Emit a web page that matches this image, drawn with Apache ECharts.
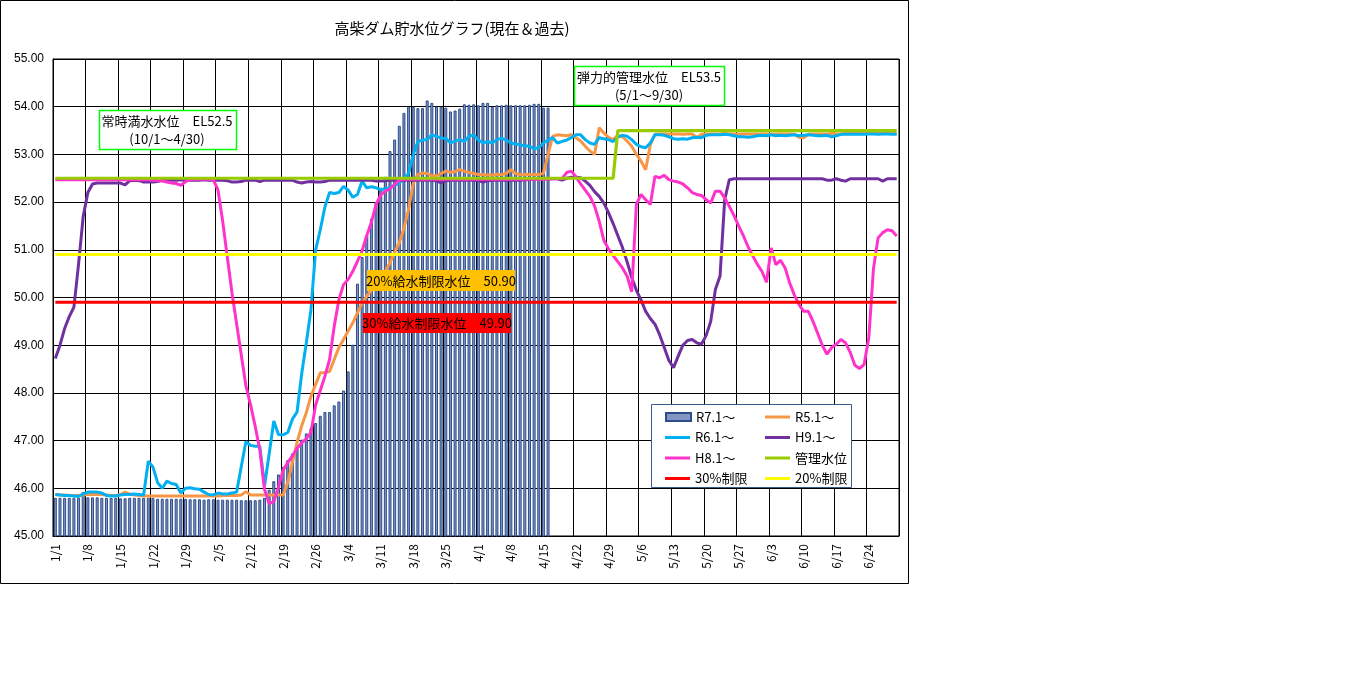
<!DOCTYPE html>
<html>
<head>
<meta charset="utf-8">
<title>高柴ダム貯水位グラフ</title>
<script src="https://cdn.jsdelivr.net/npm/echarts@6/dist/echarts.min.js"></script>
<style>
html, body { margin: 0; padding: 0; background: #fff; }
#chart { width: 1361px; height: 700px; }
</style>
</head>
<body>
<div id="chart"></div>
<script>
// 1/1 - 6/30 (leap-year calendar, as on the chart's axis)
var monthDays = [31, 29, 31, 30, 31, 30];
var dates = [];
monthDays.forEach(function (n, m) {
	for (var d = 1; d <= n; d++) dates.push((m + 1) + '/' + d);
});

var yTicks = { min: 45, max: 55, step: 1 };

// R7 (current year, bars)
var r7 = [
	45.80,45.80,45.80,45.80,45.80,45.80,45.92,45.81,45.81,45.81,
	45.80,45.80,45.80,45.80,45.79,45.79,45.80,45.80,45.80,45.80,
	45.80,45.80,45.78,45.78,45.78,45.78,45.78,45.78,45.78,45.77,
	45.77,45.77,45.76,45.77,45.77,45.76,45.76,45.76,45.76,45.76,
	45.75,45.75,45.75,45.75,45.76,45.80,45.97,46.15,46.29,46.45,
	46.59,46.73,46.90,47.02,47.15,47.26,47.37,47.52,47.60,47.60,
	47.74,47.82,48.05,48.45,49.01,50.29,50.85,51.30,51.65,52.00,
	52.30,52.53,53.07,53.31,53.60,53.87,54.00,54.00,53.97,53.97,
	54.13,54.08,54.00,54.00,53.98,53.90,53.92,53.96,54.05,54.04,
	54.05,54.03,54.08,54.08,54.00,54.03,54.03,54.04,54.03,54.03,
	54.03,54.03,54.04,54.06,54.06,53.98,53.98
];

var r5 = [
	45.87,45.86,45.86,45.85,45.85,45.85,45.86,45.87,45.87,45.87,
	45.87,45.86,45.85,45.85,45.87,45.92,45.88,45.86,45.85,45.84,
	45.84,45.84,45.84,45.84,45.84,45.84,45.84,45.84,45.84,45.84,
	45.84,45.84,45.84,45.84,45.84,45.84,45.85,45.85,45.85,45.85,
	45.86,45.93,45.86,45.86,45.86,45.86,45.86,45.86,45.86,45.86,
	46.12,46.54,46.96,47.31,47.59,47.93,48.18,48.42,48.43,48.45,
	48.70,48.95,49.12,49.30,49.47,49.68,49.89,50.03,50.15,50.28,
	50.40,50.55,50.73,50.95,51.15,51.45,51.85,52.40,52.58,52.61,
	52.60,52.55,52.55,52.60,52.65,52.62,52.64,52.68,52.65,52.62,
	52.60,52.58,52.58,52.57,52.57,52.58,52.58,52.60,52.68,52.60,
	52.58,52.58,52.58,52.58,52.58,52.60,53.00,53.38,53.41,53.40,
	53.39,53.41,53.35,53.28,53.17,53.07,53.00,53.56,53.45,53.36,
	53.31,53.40,53.37,53.28,53.17,53.00,52.86,52.68,53.20,53.42,
	53.43,53.43,53.43,53.43,53.43,53.42,53.43,53.43,53.35,53.42,
	53.43,53.43,53.43,53.43,53.44,53.43,53.43,53.42,53.43,53.43,
	53.43,53.43,53.43,53.43,53.42,53.43,53.43,53.43,53.43,53.42,
	53.36,53.35,53.42,53.43,53.43,53.43,53.43,53.44,53.43,53.43,
	53.44,53.44,53.44,53.44,53.44,53.44,53.44,53.44,53.44,53.44,
	53.44,53.44
];

var r6 = [
	45.87,45.86,45.85,45.85,45.84,45.83,45.88,45.92,45.92,45.92,
	45.90,45.85,45.84,45.84,45.86,45.87,45.87,45.88,45.87,45.86,
	46.57,46.45,46.12,46.00,46.15,46.10,46.08,45.90,46.00,46.01,
	45.99,45.98,45.92,45.87,45.86,45.90,45.88,45.88,45.90,45.92,
	46.45,46.98,46.90,46.88,46.88,46.05,46.72,47.41,47.13,47.12,
	47.17,47.45,47.60,48.40,49.05,49.75,51.00,51.42,51.90,52.20,
	52.18,52.20,52.33,52.25,52.10,52.16,52.44,52.30,52.32,52.30,
	52.26,52.28,52.30,52.35,52.40,52.50,52.60,53.00,53.27,53.30,
	53.31,53.41,53.38,53.34,53.34,53.24,53.28,53.31,53.27,53.38,
	53.41,53.30,53.24,53.27,53.24,53.31,53.34,53.30,53.24,53.22,
	53.20,53.18,53.17,53.12,53.14,53.24,53.30,53.35,53.24,53.27,
	53.30,53.35,53.41,53.41,53.31,53.24,53.21,53.35,53.33,53.31,
	53.27,53.36,53.40,53.38,53.31,53.21,53.16,53.14,53.24,53.41,
	53.41,53.40,53.37,53.33,53.32,53.33,53.32,53.35,53.36,53.35,
	53.40,53.41,53.41,53.41,53.42,53.41,53.39,53.37,53.37,53.36,
	53.37,53.39,53.40,53.39,53.41,53.39,53.40,53.39,53.40,53.41,
	53.39,53.40,53.41,53.40,53.39,53.39,53.40,53.37,53.39,53.42,
	53.42,53.42,53.43,53.42,53.42,53.43,53.43,53.42,53.43,53.43,
	53.42,53.42
];

var h9 = [
	48.72,49.00,49.35,49.60,49.80,50.70,51.70,52.20,52.38,52.40,
	52.40,52.40,52.40,52.40,52.40,52.36,52.45,52.46,52.45,52.42,
	52.42,52.42,52.43,52.46,52.46,52.46,52.46,52.47,52.46,52.46,
	52.46,52.46,52.47,52.46,52.46,52.46,52.46,52.45,52.42,52.42,
	52.43,52.46,52.46,52.46,52.43,52.46,52.46,52.46,52.46,52.46,
	52.46,52.46,52.42,52.40,52.42,52.43,52.42,52.42,52.43,52.46,
	52.46,52.46,52.46,52.46,52.46,52.46,52.46,52.46,52.46,52.44,
	52.44,52.45,52.46,52.46,52.46,52.46,52.46,52.46,52.46,52.46,
	52.46,52.46,52.45,52.40,52.45,52.46,52.46,52.46,52.46,52.46,
	52.46,52.45,52.42,52.45,52.46,52.46,52.46,52.46,52.46,52.46,
	52.46,52.47,52.47,52.48,52.49,52.49,52.49,52.49,52.49,52.46,
	52.50,52.52,52.52,52.51,52.44,52.35,52.22,52.12,51.98,51.78,
	51.55,51.30,51.05,50.75,50.42,50.15,49.95,49.71,49.56,49.44,
	49.22,48.95,48.68,48.53,48.77,49.00,49.10,49.12,49.05,49.02,
	49.20,49.50,50.17,50.45,52.05,52.47,52.49,52.49,52.49,52.49,
	52.49,52.49,52.49,52.49,52.49,52.49,52.49,52.49,52.49,52.49,
	52.49,52.49,52.49,52.49,52.49,52.49,52.46,52.46,52.49,52.46,
	52.44,52.49,52.49,52.49,52.49,52.49,52.49,52.49,52.44,52.49,
	52.49,52.49
];

var h8 = [
	52.47,52.47,52.47,52.47,52.47,52.47,52.47,52.47,52.47,52.47,
	52.47,52.47,52.47,52.47,52.47,52.47,52.47,52.47,52.47,52.47,
	52.47,52.46,52.45,52.44,52.42,52.40,52.39,52.35,52.43,52.47,
	52.48,52.48,52.48,52.48,52.47,52.25,51.60,50.85,50.10,49.45,
	48.80,48.15,47.75,47.30,46.80,45.98,45.68,45.72,46.02,46.38,
	46.54,46.68,46.84,46.95,47.04,47.17,47.75,48.05,48.35,48.70,
	49.40,49.95,50.27,50.38,50.55,50.76,50.98,51.30,51.58,51.95,
	52.15,52.23,52.28,52.37,52.46,52.48,52.48,52.48,52.48,52.48,
	52.48,52.48,52.48,52.48,52.48,52.48,52.48,52.48,52.48,52.48,
	52.48,52.48,52.48,52.48,52.48,52.48,52.48,52.48,52.48,52.48,
	52.48,52.48,52.48,52.48,52.48,52.48,52.48,52.49,52.49,52.49,
	52.62,52.65,52.53,52.38,52.25,52.12,51.92,51.60,51.20,51.02,
	50.88,50.75,50.62,50.45,50.12,51.95,52.16,52.05,51.95,52.54,
	52.51,52.56,52.47,52.44,52.42,52.38,52.30,52.20,52.16,52.14,
	52.05,51.98,52.23,52.23,52.09,51.91,51.72,51.50,51.30,51.07,
	50.88,50.70,50.55,50.32,51.04,50.69,50.78,50.62,50.30,50.05,
	49.85,49.71,49.71,49.50,49.25,49.00,48.81,48.95,49.02,49.12,
	49.05,48.85,48.58,48.51,48.60,49.15,50.60,51.25,51.36,51.42,
	51.40,51.29
];

// 管理水位: 52.5 until 4/30, 53.5 from 5/1
var kanriLevels = [52.5, 53.5];
var kanriChange = '5/1';
var limit30 = 49.90;
var limit20 = 50.90;

var FONT = '"Noto Sans CJK JP", "Noto Sans", sans-serif';

var changeIdx = dates.indexOf(kanriChange);
var kanri = dates.map(function (d, i) { return i < changeIdx ? kanriLevels[0] : kanriLevels[1]; });
var line30 = dates.map(function () { return limit30; });
var line20 = dates.map(function () { return limit20; });

function lineSeries(name, data, color, width) {
	return {
		name: name, type: 'line', data: data, symbol: 'none', smooth: false,
		lineStyle: { color: color, width: width || 3 }, itemStyle: { color: color },
		emphasis: { disabled: true }
	};
}

function textLine(str, x, y) {
	return {
		type: 'text', x: x, y: y, z: 20, silent: true,
		style: { text: str, font: '13px ' + FONT, fill: '#000', textAlign: 'center', textVerticalAlign: 'middle' }
	};
}

function legendCol(left, top, items, iconH) {
	return {
		left: left, top: top, orient: 'vertical', itemWidth: 25, itemHeight: iconH, itemGap: 6.5,
		selectedMode: false, z: 6, icon: 'rect',
		textStyle: { fontFamily: FONT, fontSize: 13, color: '#000', lineHeight: 14 },
		data: items
	};
}

var chart = echarts.init(document.getElementById('chart'));

chart.setOption({
	animation: false,
	backgroundColor: '#fff',
	grid: { left: 53, top: 59, width: 846, height: 477, show: true, borderColor: '#000', borderWidth: 1, containLabel: false },
	xAxis: {
		type: 'category', data: dates, boundaryGap: true,
		axisLine: { lineStyle: { color: '#000', width: 1 } },
		axisTick: { show: false },
		axisLabel: { interval: 6, rotate: 90, margin: 8, color: '#000', fontSize: 12, fontFamily: FONT },
		splitLine: { show: true, interval: 6, lineStyle: { color: '#000', width: 1 } }
	},
	yAxis: {
		type: 'value', min: yTicks.min, max: yTicks.max, interval: yTicks.step,
		axisLine: { show: true, lineStyle: { color: '#000', width: 1 } },
		axisTick: { show: false },
		axisLabel: { color: '#000', fontSize: 12, fontFamily: '"Liberation Sans", Arial, sans-serif', margin: 9,
			formatter: function (v) { return v.toFixed(2); } },
		splitLine: { show: true, lineStyle: { color: '#000', width: 1 } }
	},
	legend: [
		legendCol(660, 405, ['R7.1～'], 8),
		legendCol(660, 425.5, ['R6.1～', 'H8.1～', '30%制限'], 3),
		legendCol(760, 405, ['R5.1～', 'H9.1～', '管理水位', '20%制限'], 3)
	],
	series: [
		{
			name: 'R7.1～', type: 'bar', data: r7, barWidth: 3,
			itemStyle: { color: '#8396c4', borderColor: '#2c4d8a', borderWidth: 1 },
			emphasis: { disabled: true }
		},
		lineSeries('R5.1～', r5, '#f79646'),
		lineSeries('R6.1～', r6, '#00b0f0'),
		lineSeries('H9.1～', h9, '#7030a0'),
		lineSeries('H8.1～', h8, '#ff33cc'),
		lineSeries('管理水位', kanri, '#99cc00', 3.2),
		lineSeries('30%制限', line30, '#ff0000', 3),
		lineSeries('20%制限', line20, '#ffff00', 3)
	],
	graphic: [
		{ type: 'rect', z: 1, silent: true, shape: { x: 0.5, y: 0.5, width: 908, height: 583 },
			style: { fill: 'none', stroke: '#000', lineWidth: 1 } },
		{ type: 'text', x: 452, y: 28, z: 20, silent: true,
			style: { text: '高柴ダム貯水位グラフ(現在＆過去)', font: '15px ' + FONT, fill: '#000', textAlign: 'center', textVerticalAlign: 'middle' } },
		// legend frame
		{ type: 'rect', z: 5, silent: true, shape: { x: 651.5, y: 404.5, width: 200, height: 83 },
			style: { fill: '#fff', stroke: '#385d8a', lineWidth: 1 } },
		// 常時満水水位
		{ type: 'rect', z: 19, silent: true, shape: { x: 99.5, y: 110.5, width: 137, height: 39 },
			style: { fill: '#fff', stroke: '#00ff00', lineWidth: 1.5 } },
		textLine('常時満水水位　EL52.5', 167, 121),
		textLine('(10/1～4/30)', 167, 139),
		// 弾力的管理水位
		{ type: 'rect', z: 19, silent: true, shape: { x: 574.5, y: 66.5, width: 150, height: 39 },
			style: { fill: '#fff', stroke: '#00ff00', lineWidth: 1.5 } },
		textLine('弾力的管理水位　EL53.5', 649, 77),
		textLine('(5/1～9/30)', 649, 95),
		// 給水制限
		{ type: 'rect', z: 19, silent: true, shape: { x: 367, y: 270, width: 148, height: 21 },
			style: { fill: '#ffc000' } },
		textLine('20%給水制限水位　50.90', 441, 281),
		{ type: 'rect', z: 19, silent: true, shape: { x: 363, y: 313, width: 148, height: 20 },
			style: { fill: '#ff0000' } },
		textLine('30%給水制限水位　49.90', 437, 323.5)
	]
});
</script>
</body>
</html>
